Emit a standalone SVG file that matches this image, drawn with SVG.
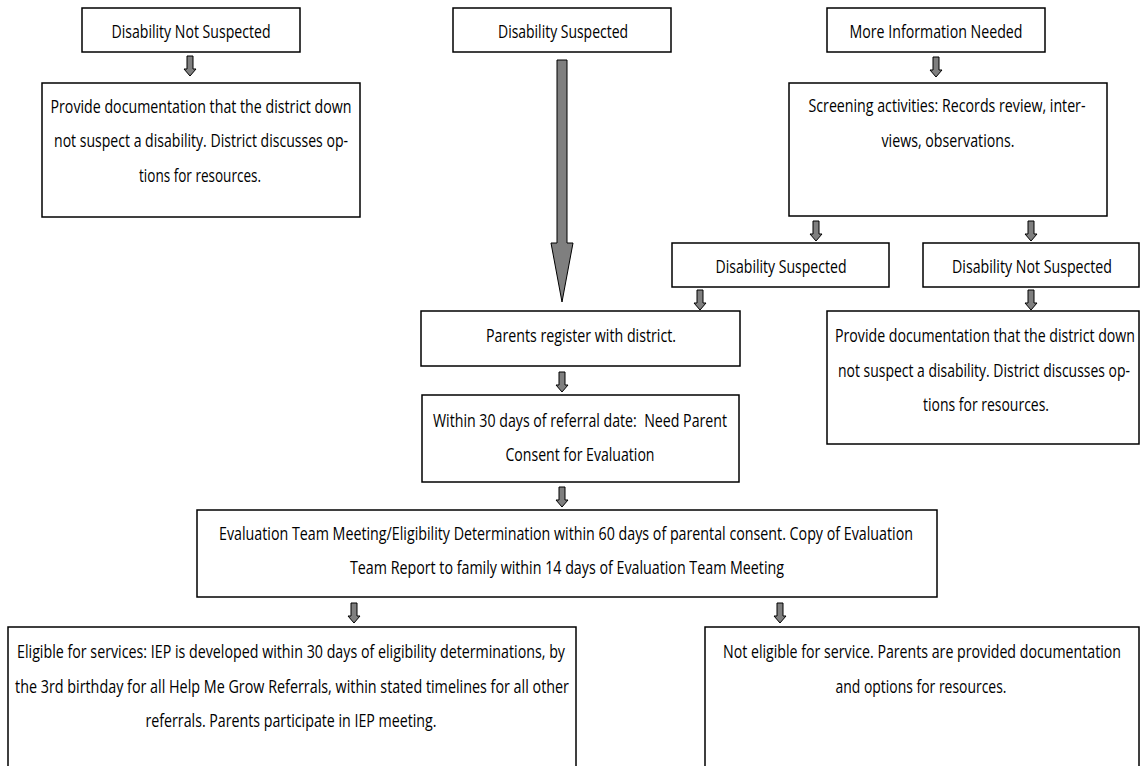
<svg xmlns="http://www.w3.org/2000/svg" width="1140" height="766" viewBox="0 0 1140 766">
<defs>
<style>
.box{fill:#fff;stroke:#000;stroke-width:1.5}
.t{font-family:"Open Sans","Liberation Sans",sans-serif;font-size:19px;fill:#000;text-anchor:middle}
.arr{fill:#7f7f7f;stroke:#000;stroke-width:1}
</style>
<path id="sa" d="M-3,0 H3 V13 H6 L0,20 L-6,13 H-3 Z"/>
</defs>
<rect width="1140" height="766" fill="#fff"/>

<g id="connectors">
<path class="arr" d="M557,60 H567 V243 H573 L562,302 L551,243 H557 Z"/>
<use href="#sa" class="arr" x="190" y="56"/>
<use href="#sa" class="arr" x="936" y="57"/>
<use href="#sa" class="arr" x="816" y="221"/>
<use href="#sa" class="arr" x="1031" y="221"/>
<use href="#sa" class="arr" x="700" y="290"/>
<use href="#sa" class="arr" x="1031" y="290"/>
<use href="#sa" class="arr" x="562" y="372"/>
<use href="#sa" class="arr" x="562" y="487"/>
<use href="#sa" class="arr" x="354" y="603"/>
<use href="#sa" class="arr" x="780" y="603"/>
</g>

<g id="n1">
<rect class="box" x="82" y="8" width="218" height="44"/>
<text class="t" transform="translate(191,0) scale(0.74,1)" x="0" y="38" textLength="214.9" lengthAdjust="spacingAndGlyphs">Disability Not Suspected</text>
</g>
<g id="n2">
<rect class="box" x="42" y="83" width="318" height="134"/>
<text class="t" transform="translate(201,0) scale(0.74,1)" x="0" y="113" textLength="406.8" lengthAdjust="spacingAndGlyphs">Provide documentation that the district down</text>
<text class="t" transform="translate(201,0) scale(0.74,1)" x="0" y="147" textLength="397.3" lengthAdjust="spacingAndGlyphs">not suspect a disability. District discusses op-</text>
<text class="t" transform="translate(200,0) scale(0.74,1)" x="0" y="182" textLength="164.9" lengthAdjust="spacingAndGlyphs">tions for resources.</text>
</g>
<g id="n3">
<rect class="box" x="453" y="8" width="218" height="44"/>
<text class="t" transform="translate(563,0) scale(0.74,1)" x="0" y="38" textLength="175.7" lengthAdjust="spacingAndGlyphs">Disability Suspected</text>
</g>
<g id="n4">
<rect class="box" x="827" y="8" width="218" height="44"/>
<text class="t" transform="translate(936,0) scale(0.74,1)" x="0" y="38" textLength="233.8" lengthAdjust="spacingAndGlyphs">More Information Needed</text>
</g>
<g id="n5">
<rect class="box" x="789" y="83" width="318" height="133"/>
<text class="t" transform="translate(947,0) scale(0.74,1)" x="0" y="112" textLength="374.3" lengthAdjust="spacingAndGlyphs">Screening activities: Records review, inter-</text>
<text class="t" transform="translate(948,0) scale(0.74,1)" x="0" y="147" textLength="179.7" lengthAdjust="spacingAndGlyphs">views, observations.</text>
</g>
<g id="n6">
<rect class="box" x="672" y="243" width="217" height="44"/>
<text class="t" transform="translate(781,0) scale(0.74,1)" x="0" y="273" textLength="177" lengthAdjust="spacingAndGlyphs">Disability Suspected</text>
</g>
<g id="n7">
<rect class="box" x="923" y="243" width="216" height="44"/>
<text class="t" transform="translate(1032,0) scale(0.74,1)" x="0" y="273" textLength="216.2" lengthAdjust="spacingAndGlyphs">Disability Not Suspected</text>
</g>
<g id="n8">
<rect class="box" x="827" y="311" width="312" height="133"/>
<text class="t" transform="translate(985,0) scale(0.74,1)" x="0" y="342" textLength="405.4" lengthAdjust="spacingAndGlyphs">Provide documentation that the district down</text>
<text class="t" transform="translate(984,0) scale(0.74,1)" x="0" y="377" textLength="394.6" lengthAdjust="spacingAndGlyphs">not suspect a disability. District discusses op-</text>
<text class="t" transform="translate(986,0) scale(0.74,1)" x="0" y="411" textLength="170.3" lengthAdjust="spacingAndGlyphs">tions for resources.</text>
</g>
<g id="n9">
<rect class="box" x="421" y="311" width="319" height="55"/>
<text class="t" transform="translate(581,0) scale(0.74,1)" x="0" y="342" textLength="256.8" lengthAdjust="spacingAndGlyphs">Parents register with district.</text>
</g>
<g id="n10">
<rect class="box" x="422" y="395" width="317" height="87"/>
<text class="t" transform="translate(580,0) scale(0.74,1)" x="0" y="427" textLength="397.3" lengthAdjust="spacingAndGlyphs">Within 30 days of referral date: &#160;Need Parent</text>
<text class="t" transform="translate(580,0) scale(0.74,1)" x="0" y="461" textLength="201.4" lengthAdjust="spacingAndGlyphs">Consent for Evaluation</text>
</g>
<g id="n11">
<rect class="box" x="197" y="510" width="740" height="87"/>
<text class="t" transform="translate(566,0) scale(0.74,1)" x="0" y="540" textLength="937.8" lengthAdjust="spacingAndGlyphs">Evaluation Team Meeting/Eligibility Determination within 60 days of parental consent. Copy of Evaluation</text>
<text class="t" transform="translate(567,0) scale(0.74,1)" x="0" y="574" textLength="586.5" lengthAdjust="spacingAndGlyphs">Team Report to family within 14 days of Evaluation Team Meeting</text>
</g>
<g id="n12">
<rect class="box" x="8" y="627" width="568" height="150"/>
<text class="t" transform="translate(291,0) scale(0.74,1)" x="0" y="658" textLength="740.5" lengthAdjust="spacingAndGlyphs">Eligible for services: IEP is developed within 30 days of eligibility determinations, by</text>
<text class="t" transform="translate(292,0) scale(0.74,1)" x="0" y="693" textLength="748.6" lengthAdjust="spacingAndGlyphs">the 3rd birthday for all Help Me Grow Referrals, within stated timelines for all other</text>
<text class="t" transform="translate(291,0) scale(0.74,1)" x="0" y="727" textLength="393.2" lengthAdjust="spacingAndGlyphs">referrals. Parents participate in IEP meeting.</text>
</g>
<g id="n13">
<rect class="box" x="705" y="627" width="434" height="150"/>
<text class="t" transform="translate(922,0) scale(0.74,1)" x="0" y="658" textLength="537.8" lengthAdjust="spacingAndGlyphs">Not eligible for service. Parents are provided documentation</text>
<text class="t" transform="translate(921,0) scale(0.74,1)" x="0" y="693" textLength="231.1" lengthAdjust="spacingAndGlyphs">and options for resources.</text>
</g>
</svg>
